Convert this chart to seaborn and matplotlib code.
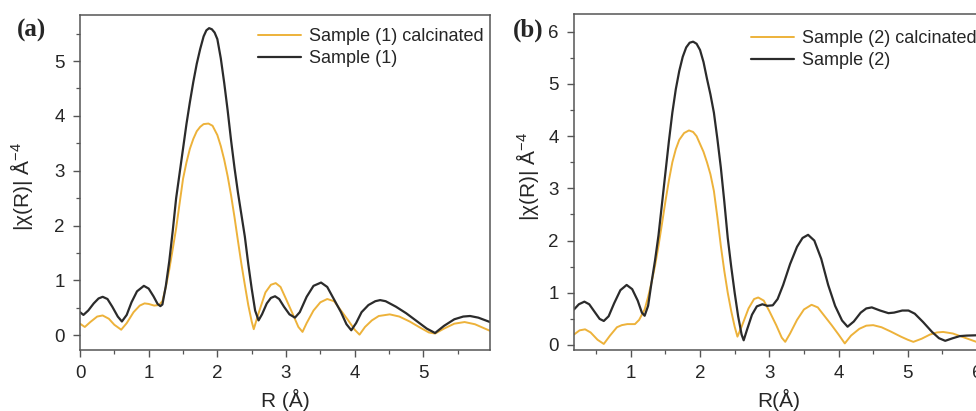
import numpy as np
import pandas as pd
import matplotlib
matplotlib.use("Agg")
import matplotlib.pyplot as plt
from matplotlib.ticker import MultipleLocator
import seaborn as sns

# ---------------- data ----------------
# Panel (a): Sample (1)
a_black_R = [0.00, 0.05, 0.12, 0.20, 0.27, 0.33, 0.40, 0.47, 0.55, 0.61, 0.68, 0.75, 0.83, 0.93,
             1.00, 1.07, 1.13, 1.17, 1.20, 1.25, 1.30, 1.35, 1.40, 1.45, 1.50, 1.55, 1.60, 1.65,
             1.70, 1.75, 1.80, 1.84, 1.88, 1.92, 1.96, 2.00, 2.05, 2.10, 2.15, 2.20, 2.25, 2.30,
             2.35, 2.40, 2.45, 2.50, 2.55, 2.60, 2.65, 2.72, 2.78, 2.84, 2.90,
             2.97, 3.05, 3.13, 3.20, 3.30, 3.40, 3.51, 3.60, 3.70, 3.80, 3.88, 3.95, 4.02, 4.10,
             4.20, 4.30, 4.37, 4.45, 4.60, 4.75, 4.90, 5.05, 5.17, 5.30, 5.45, 5.58, 5.68, 5.80, 5.97]
a_black_v = [0.42, 0.37, 0.45, 0.58, 0.67, 0.70, 0.66, 0.52, 0.34, 0.25, 0.37, 0.60, 0.80, 0.90,
             0.85, 0.71, 0.57, 0.53, 0.56, 0.90, 1.35, 1.90, 2.50, 2.95, 3.40, 3.85, 4.25, 4.62,
             4.95, 5.22, 5.45, 5.56, 5.60, 5.58, 5.52, 5.40, 5.05, 4.60, 4.10, 3.55, 3.05, 2.60,
             2.20, 1.80, 1.30, 0.85, 0.45, 0.27, 0.38, 0.58, 0.68, 0.71, 0.66,
             0.52, 0.38, 0.32, 0.42, 0.70, 0.90, 0.96, 0.88, 0.65, 0.42, 0.20, 0.09, 0.22, 0.42,
             0.55, 0.62, 0.64, 0.62, 0.52, 0.40, 0.26, 0.12, 0.04, 0.17, 0.29, 0.34, 0.35, 0.32, 0.24]

# Panel (a): Sample (1) calcinated
a_orange_R = [0.00, 0.07, 0.15, 0.25, 0.33, 0.42, 0.50, 0.60, 0.68, 0.78, 0.87, 0.94, 1.00, 1.08,
              1.15, 1.20, 1.25, 1.30, 1.35, 1.40, 1.45, 1.50, 1.55, 1.60, 1.65, 1.70, 1.75, 1.80,
              1.87, 1.93, 2.00, 2.05, 2.10, 2.15, 2.20, 2.25, 2.30, 2.35, 2.40, 2.45, 2.50, 2.53,
              2.60, 2.70, 2.78, 2.85, 2.92, 3.00, 3.10, 3.18, 3.24, 3.30, 3.40,
              3.50, 3.60, 3.70, 3.80, 3.90, 4.00, 4.07, 4.15, 4.25, 4.35, 4.51, 4.65, 4.80, 4.95,
              5.08, 5.17, 5.30, 5.45, 5.60, 5.75, 5.97]
a_orange_v = [0.21, 0.15, 0.24, 0.34, 0.36, 0.30, 0.19, 0.10, 0.22, 0.42, 0.54, 0.58, 0.57, 0.54,
              0.55, 0.62, 0.88, 1.20, 1.57, 1.95, 2.40, 2.85, 3.15, 3.40, 3.58, 3.72, 3.80, 3.85,
              3.86, 3.82, 3.65, 3.45, 3.20, 2.90, 2.55, 2.15, 1.72, 1.30, 0.92, 0.55, 0.25, 0.11,
              0.40, 0.78, 0.92, 0.95, 0.88, 0.66, 0.38, 0.15, 0.06, 0.22, 0.45,
              0.60, 0.66, 0.62, 0.45, 0.28, 0.10, 0.01, 0.15, 0.27, 0.35, 0.38, 0.34, 0.25, 0.14,
              0.05, 0.03, 0.12, 0.21, 0.24, 0.20, 0.08]

# Panel (b): Sample (2)
b_black_R = [0.18, 0.25, 0.33, 0.40, 0.48, 0.55, 0.61, 0.68, 0.76, 0.85, 0.94, 1.02, 1.10, 1.16,
             1.20, 1.25, 1.30, 1.35, 1.40, 1.45, 1.50, 1.55, 1.60, 1.65, 1.70, 1.75, 1.80, 1.85,
             1.90, 1.95, 2.00, 2.05, 2.10, 2.15, 2.20, 2.25, 2.30, 2.35, 2.40, 2.45, 2.50, 2.55,
             2.60, 2.63, 2.68, 2.75, 2.82, 2.90, 2.97, 3.05, 3.12, 3.20, 3.30, 3.40,
             3.48, 3.56, 3.65, 3.75, 3.85, 3.95, 4.05, 4.13, 4.22, 4.32, 4.40, 4.48, 4.60, 4.72,
             4.80, 4.92, 5.01, 5.10, 5.22, 5.35, 5.45, 5.54, 5.65, 5.75, 5.85, 6.10]
b_black_v = [0.68, 0.78, 0.83, 0.78, 0.63, 0.50, 0.46, 0.55, 0.80, 1.05, 1.15, 1.07, 0.85, 0.62,
             0.56, 0.75, 1.20, 1.62, 2.10, 2.70, 3.30, 3.90, 4.45, 4.90, 5.25, 5.52, 5.70, 5.79,
             5.81, 5.77, 5.65, 5.42, 5.10, 4.80, 4.45, 3.95, 3.40, 2.75, 2.05, 1.50, 1.00, 0.55,
             0.20, 0.09, 0.30, 0.58, 0.74, 0.78, 0.75, 0.76, 0.88, 1.15, 1.55, 1.88,
             2.05, 2.11, 2.00, 1.65, 1.15, 0.75, 0.47, 0.35, 0.45, 0.62, 0.70, 0.72, 0.66, 0.61,
             0.62, 0.66, 0.66, 0.60, 0.44, 0.25, 0.13, 0.08, 0.13, 0.17, 0.18, 0.19]

# Panel (b): Sample (2) calcinated
b_orange_R = [0.18, 0.26, 0.34, 0.42, 0.52, 0.61, 0.70, 0.80, 0.87, 0.95, 1.06, 1.12, 1.20, 1.25,
              1.30, 1.35, 1.40, 1.45, 1.50, 1.55, 1.60, 1.65, 1.70, 1.77, 1.84, 1.90, 1.95, 2.00,
              2.05, 2.10, 2.15, 2.20, 2.25, 2.30, 2.35, 2.40, 2.45, 2.50, 2.54, 2.60,
              2.70, 2.78, 2.84, 2.92, 3.00, 3.10, 3.18, 3.23, 3.30, 3.40, 3.50, 3.61, 3.70, 3.80,
              3.90, 4.00, 4.09, 4.18, 4.30, 4.40, 4.50, 4.62, 4.75, 4.90, 5.00, 5.08, 5.20, 5.32,
              5.42, 5.51, 5.65, 5.80, 5.99, 6.10]
b_orange_v = [0.20, 0.28, 0.30, 0.24, 0.10, 0.02, 0.18, 0.34, 0.38, 0.40, 0.40, 0.48, 0.68, 0.92,
              1.20, 1.52, 1.90, 2.32, 2.75, 3.15, 3.50, 3.75, 3.93, 4.06, 4.11, 4.08, 4.00, 3.85,
              3.70, 3.50, 3.27, 2.95, 2.45, 1.90, 1.42, 1.00, 0.65, 0.35, 0.16, 0.35,
              0.70, 0.88, 0.91, 0.85, 0.65, 0.38, 0.14, 0.06, 0.22, 0.48, 0.68, 0.77, 0.72, 0.55,
              0.38, 0.20, 0.03, 0.18, 0.31, 0.37, 0.38, 0.34, 0.26, 0.16, 0.10, 0.06, 0.12, 0.20,
              0.24, 0.25, 0.22, 0.15, 0.06, 0.02]

labels_a = ["Sample (1) calcinated", "Sample (1)"]
labels_b = ["Sample (2) calcinated", "Sample (2)"]
panel_tags = ["(a)", "(b)"]
xlabels = ["R (Å)", "R(Å)"]
ylabel = "|χ(R)| Å$^{-4}$"

ORANGE = "#EDB23A"
BLACK = "#2B2B2B"

# ---------------- style ----------------
sns.set_style("ticks")
plt.rcParams["font.family"] = ["Liberation Sans", "DejaVu Sans"]
plt.rcParams["mathtext.fontset"] = "custom"
plt.rcParams["mathtext.rm"] = "Liberation Sans"
plt.rcParams["mathtext.it"] = "Liberation Sans:italic"
plt.rcParams["axes.edgecolor"] = "#555555"
plt.rcParams["axes.linewidth"] = 1.1

W, H = 976, 411
fig = plt.figure(figsize=(W / 100, H / 100), dpi=100)


def px_axes(left, top, right, bottom):
    return fig.add_axes([left / W, 1 - bottom / H, (right - left) / W, (bottom - top) / H])


ax_a = px_axes(80, 15, 490, 350)
ax_b = px_axes(574, 14, 984, 350)

panels = [
    (ax_a, a_orange_R, a_orange_v, a_black_R, a_black_v, labels_a, (0, 5.97), (-0.27, 5.84), [0, 1, 2, 3, 4, 5]),
    (ax_b, b_orange_R, b_orange_v, b_black_R, b_black_v, labels_b, (0.18, 6.1), (-0.096, 6.34), [1, 2, 3, 4, 5, 6]),
]

for ax, oR, ov, kR, kv, labs, xl, yl, xt in panels:
    df_o = pd.DataFrame({"R": oR, "v": ov})
    df_k = pd.DataFrame({"R": kR, "v": kv})
    sns.lineplot(data=df_o, x="R", y="v", ax=ax, color=ORANGE, lw=1.4, label=labs[0], estimator=None)
    sns.lineplot(data=df_k, x="R", y="v", ax=ax, color=BLACK, lw=1.6, label=labs[1], estimator=None)
    ax.set_xlim(*xl)
    ax.set_ylim(*yl)
    ax.set_xticks(xt)
    ax.xaxis.set_minor_locator(MultipleLocator(0.5))
    ax.yaxis.set_major_locator(MultipleLocator(1))
    ax.yaxis.set_minor_locator(MultipleLocator(0.5))
    ax.tick_params(which="major", direction="out", length=5, width=1.0, color="#555555",
                   labelsize=13.5, pad=6)
    ax.tick_params(which="minor", direction="out", length=3, width=0.9, color="#555555")
    for s in ax.spines.values():
        s.set_visible(True)
    ax.set_ylabel(ylabel, fontsize=15)
    ax.get_legend().remove()

ax_a.set_xlabel(xlabels[0], fontsize=15, labelpad=5)
ax_b.set_xlabel(xlabels[1], fontsize=15, labelpad=5)
ax_a.yaxis.set_label_coords((35 - 80) / 410, (350 - 187) / 335)
ax_b.yaxis.set_label_coords((541 - 574) / 410, (350 - 177) / 336)

# legends placed in figure pixel coordinates
for ax, x0, y0 in [(ax_a, 258, 28), (ax_b, 751, 30)]:
    h, l = ax.get_legend_handles_labels()
    fig.legend(h, l, loc="upper left", bbox_to_anchor=(x0 / W, 1 - y0 / H),
               bbox_transform=fig.transFigure, frameon=False, fontsize=13,
               handlelength=2.4, handletextpad=0.4, labelspacing=0.3,
               borderpad=0, borderaxespad=0)

fig.text(17 / W, 1 - 30 / H, panel_tags[0], fontsize=18, fontweight="bold",
         family="Liberation Serif", va="center", ha="left")
fig.text(513 / W, 1 - 30 / H, panel_tags[1], fontsize=18, fontweight="bold",
         family="Liberation Serif", va="center", ha="left")

fig.savefig("out.png", dpi=100)
